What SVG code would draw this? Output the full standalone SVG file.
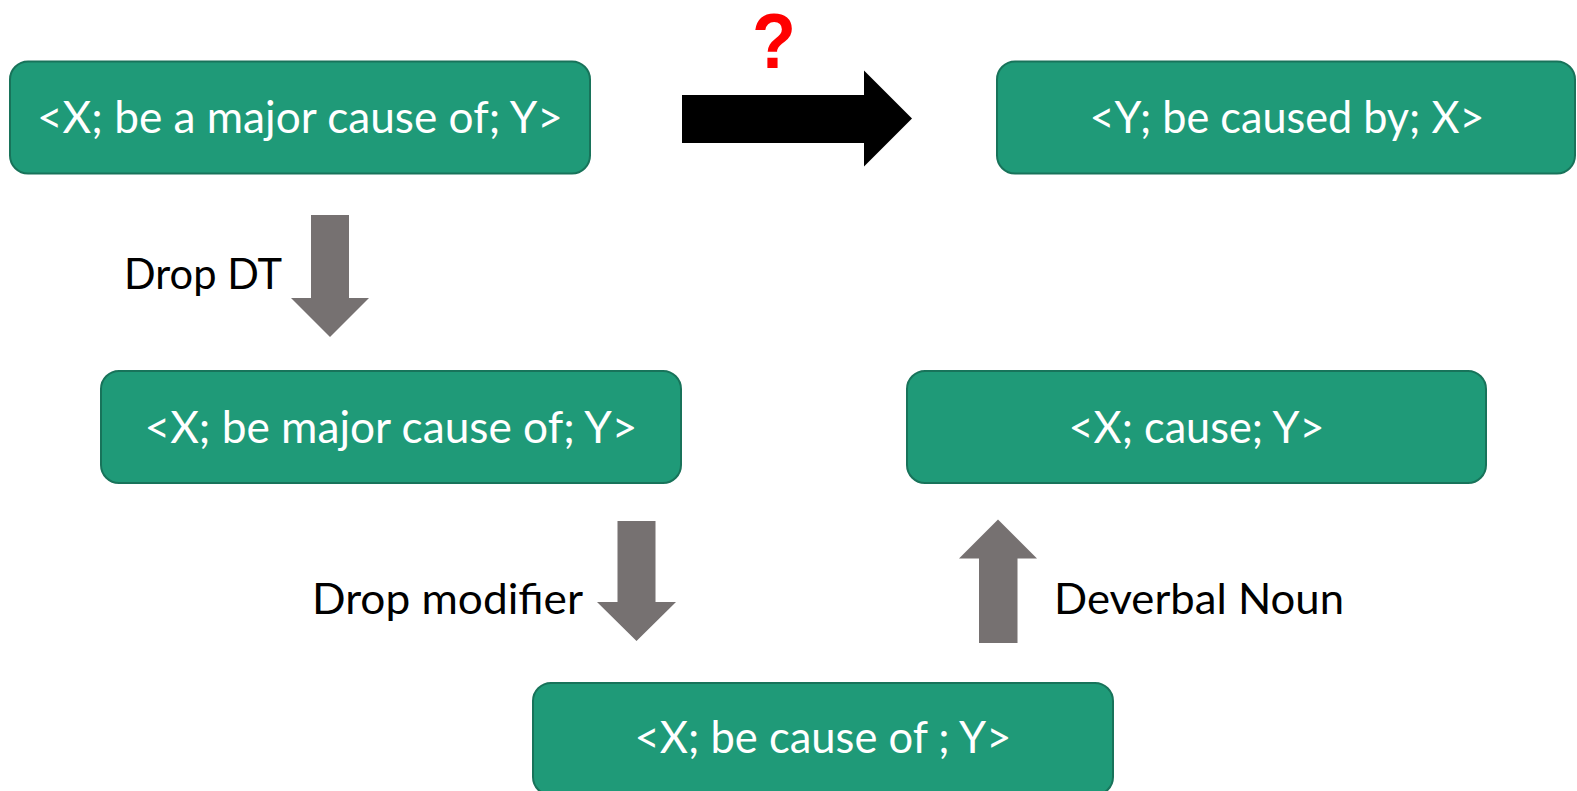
<svg xmlns="http://www.w3.org/2000/svg" width="1577" height="791" viewBox="0 0 1577 791">
<style>
.box{fill:#1f9a78;stroke:#18735a;stroke-width:2}
.nt{font-family:Lato,"Open Sans",sans-serif;font-size:44px;fill:#ffffff;text-anchor:middle}
.lb{font-family:Lato,"Open Sans",sans-serif;font-size:43px;fill:#000000}
.garrow{fill:#767171}
</style>
<rect width="1577" height="791" fill="#ffffff"/>
<g id="connectors">
<polygon id="c-question" points="682,95 864,95 864,70.5 912,118.5 864,166.5 864,143 682,143" fill="#000000"/>
<polygon id="c-dropdt" class="garrow" points="311,215 349,215 349,298 369,298 330,337 291,298 311,298"/>
<polygon id="c-dropmod" class="garrow" points="617.5,521 655.5,521 655.5,602 676,602 636.5,641 597,602 617.5,602"/>
<polygon id="c-deverbal" class="garrow" points="979,643 1017.5,643 1017.5,558.5 1037,558.5 998,519.5 959,558.5 979,558.5"/>
</g>
<text x="774" y="68" font-family="Liberation Sans,Arial,sans-serif" font-weight="bold" font-size="78" fill="#ff0000" text-anchor="middle" textLength="44" lengthAdjust="spacingAndGlyphs">?</text>
<text class="lb" x="124" y="288.5" textLength="158" lengthAdjust="spacingAndGlyphs">Drop DT</text>
<text class="lb" x="312" y="614" textLength="271" lengthAdjust="spacingAndGlyphs">Drop modifier</text>
<text class="lb" x="1054" y="614" textLength="290" lengthAdjust="spacingAndGlyphs">Deverbal Noun</text>
<g id="n1"><rect class="box" x="10" y="61.5" width="580" height="112" rx="18"/><text class="nt" x="300" y="133" textLength="526" lengthAdjust="spacingAndGlyphs">&lt;X; be a major cause of; Y&gt;</text></g>
<g id="n2"><rect class="box" x="997" y="61.5" width="578" height="112" rx="18"/><text class="nt" x="1287" y="133" textLength="395" lengthAdjust="spacingAndGlyphs">&lt;Y; be caused by; X&gt;</text></g>
<g id="n3"><rect class="box" x="101" y="371" width="580" height="112" rx="18"/><text class="nt" x="391" y="442.5" textLength="493" lengthAdjust="spacingAndGlyphs">&lt;X; be major cause of; Y&gt;</text></g>
<g id="n4"><rect class="box" x="907" y="371" width="579" height="112" rx="18"/><text class="nt" x="1196.5" y="442.5" textLength="256" lengthAdjust="spacingAndGlyphs">&lt;X; cause; Y&gt;</text></g>
<g id="n5"><rect class="box" x="533" y="683" width="580" height="112" rx="18"/><text class="nt" x="823" y="753" textLength="377" lengthAdjust="spacingAndGlyphs">&lt;X; be cause of ; Y&gt;</text></g>
</svg>
